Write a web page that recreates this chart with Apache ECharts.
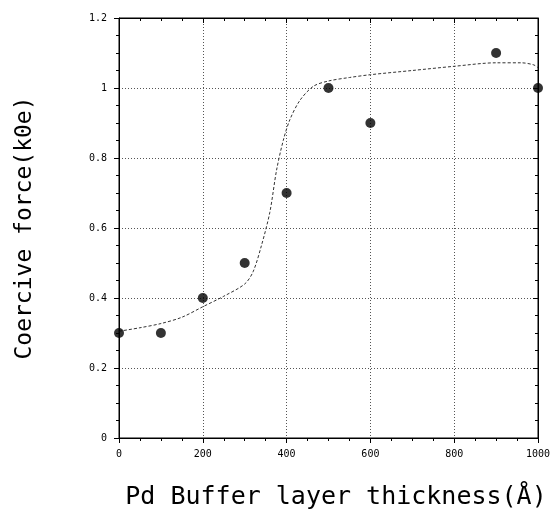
<!DOCTYPE html>
<html>
<head>
<meta charset="utf-8">
<script src="https://cdn.jsdelivr.net/npm/echarts@6/dist/echarts.min.js"></script>
<style>html,body{margin:0;padding:0;background:#fff;}#c{width:557px;height:515px;}</style>
</head>
<body>
<div id="c"></div>
<script>
// Measured data points
const thickness = [0, 100, 200, 300, 400, 500, 600, 900, 1000];
const coercive = [0.3, 0.3, 0.4, 0.5, 0.7, 1.0, 0.9, 1.1, 1.0];

// Fitted curve
const curveX = [0, 50, 100, 150, 200, 250, 300, 320, 340, 360, 376, 392, 408, 432, 464, 500, 550, 600, 700, 800, 900, 960, 990, 1000];
const curveY = [0.305, 0.315, 0.327, 0.345, 0.375, 0.405, 0.44, 0.475, 0.55, 0.645, 0.765, 0.85, 0.91, 0.965, 1.005, 1.02, 1.03, 1.038, 1.05, 1.062, 1.072, 1.072, 1.066, 1.058];

const xTicks = [0, 200, 400, 600, 800, 1000];
const yTicks = [0, 0.2, 0.4, 0.6, 0.8, 1, 1.2];

const xTitle = 'Pd Buffer layer thickness(Å)';
const yTitle = 'Coercive force(k0e)';

const chart = echarts.init(document.getElementById('c'), null, {renderer: 'canvas'});
const mono = 'DejaVu Sans Mono';
const gridLine = () => ({show: true, lineStyle: {color: '#555', type: [1, 2], width: 1}});
const tick = (s) => ({show: true, inside: true, length: 5 * s, lineStyle: {color: '#000', width: 1}});
const minor = (s) => ({show: true, splitNumber: 4, length: 3 * s, lineStyle: {color: '#000', width: 1}});

chart.setOption({
  animation: false,
  backgroundColor: '#fff',
  grid: {left: 119, right: 19, top: 18, bottom: 75, show: true, borderColor: '#000', borderWidth: 1},
  xAxis: [{
    type: 'value', min: xTicks[0], max: xTicks[xTicks.length - 1], interval: 200,
    axisLine: {show: true, onZero: false, lineStyle: {color: '#000'}},
    axisTick: tick(-1), minorTick: minor(-1),
    axisLabel: {color: '#000', fontFamily: mono, fontSize: 10, margin: 11, formatter: v => String(v)},
    splitLine: gridLine(),
    name: xTitle, nameLocation: 'middle', nameGap: 47,
    nameTextStyle: {fontFamily: mono, fontSize: 25, color: '#000', padding: [0, 0, 0, 15]}
  }, {
    type: 'value', position: 'top', min: 0, max: 1000, interval: 200,
    axisLine: {show: true, onZero: false, lineStyle: {color: '#000'}},
    axisTick: tick(1), minorTick: minor(1), axisLabel: {show: false}, splitLine: {show: false}
  }],
  yAxis: [{
    type: 'value', position: 'left', min: yTicks[0], max: yTicks[yTicks.length - 1], interval: 0.2,
    axisLine: {show: true, onZero: false, lineStyle: {color: '#000'}},
    axisTick: tick(-1), minorTick: minor(-1),
    axisLabel: {color: '#000', fontFamily: mono, fontSize: 10, margin: 12, formatter: v => String(+v.toFixed(1))},
    splitLine: gridLine(),
    name: yTitle, nameLocation: 'middle', nameRotate: 90, nameGap: 82,
    nameTextStyle: {fontFamily: mono, fontSize: 23, color: '#000'}
  }, {
    type: 'value', position: 'right', min: 0, max: 1.2, interval: 0.2,
    axisLine: {show: true, onZero: false, lineStyle: {color: '#000'}},
    axisTick: tick(1), minorTick: minor(1), axisLabel: {show: false}, splitLine: {show: false}
  }],
  series: [{
    type: 'line',
    data: curveX.map((x, i) => [x, curveY[i]]),
    smooth: 0.3,
    showSymbol: false,
    lineStyle: {color: '#333', width: 1, type: [3, 2]},
    z: 2
  }, {
    type: 'scatter',
    data: thickness.map((x, i) => [x, coercive[i]]),
    symbol: 'circle', symbolSize: 10,
    itemStyle: {color: '#000'},
    z: 3
  }]
});
</script>
</body>
</html>
